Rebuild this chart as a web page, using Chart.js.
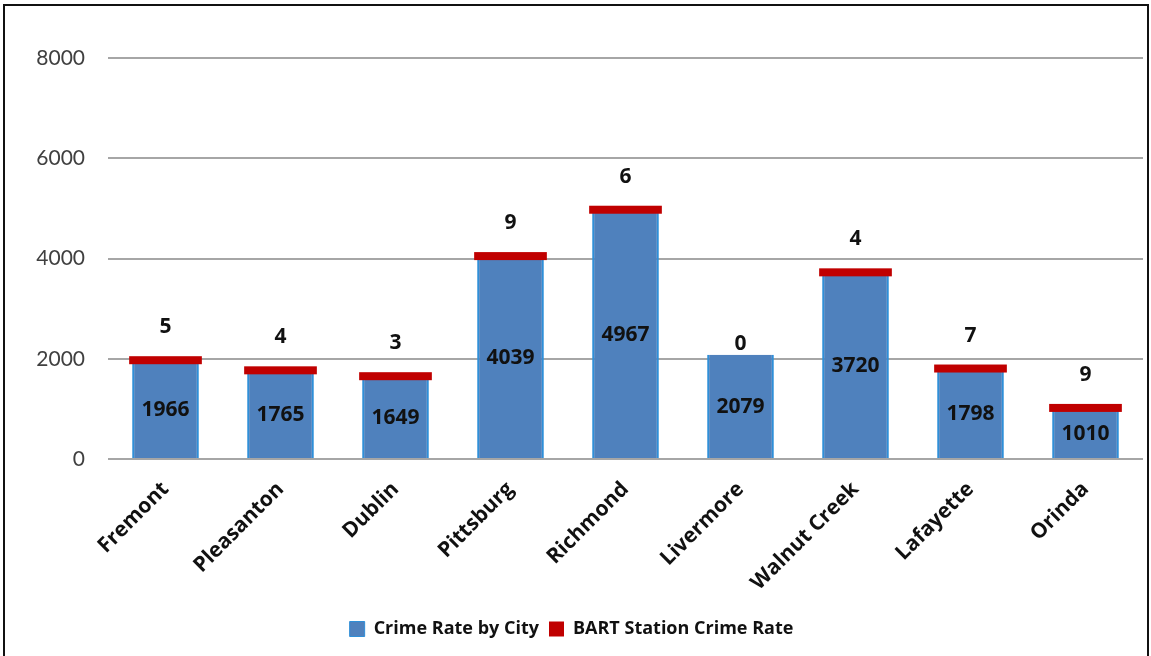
<!DOCTYPE html>
<html>
<head>
<meta charset="utf-8">
<script src="https://cdn.jsdelivr.net/npm/chart.js@4"></script>
<style>
  html, body { margin: 0; padding: 0; background: #fff; }
  #wrap { position: absolute; left: 0; top: 0; width: 1151px; height: 656px; }
  #frame { position: absolute; left: 3px; top: 4px; width: 1146px; height: 660px;
           border: 2px solid #111; box-sizing: border-box; pointer-events: none; }
</style>
</head>
<body>
<div id="wrap"><canvas id="crimeChart" width="1151" height="656"></canvas></div>
<div id="frame"></div>
<script>
// Crime rate by city vs BART station crime rate
const cities = ['Fremont', 'Pleasanton', 'Dublin', 'Pittsburg', 'Richmond', 'Livermore', 'Walnut Creek', 'Lafayette', 'Orinda'];
const cityRates = [1966, 1765, 1649, 4039, 4967, 2079, 3720, 1798, 1010];
const bartRates = [5, 4, 3, 9, 6, 0, 4, 7, 9];
const yTicks = [0, 2000, 4000, 6000, 8000];

const FONT = '"Open Sans", "Liberation Sans", sans-serif';
const TICK_FONT = 'Lato, "Liberation Sans", sans-serif';
const BLUE = '#4f81bd';
const RED = '#c00000';

// Red caps on top of each stack + value labels
const capsAndLabels = {
    id: 'capsAndLabels',
    afterDatasetsDraw(chart) {
        const ctx = chart.ctx;
        const blueMeta = chart.getDatasetMeta(0);
        const redMeta = chart.getDatasetMeta(1);
        ctx.save();
        ctx.textAlign = 'center';
        ctx.textBaseline = 'middle';
        ctx.font = `bold 21px ${FONT}`;
        ctx.fillStyle = '#111';

        blueMeta.data.forEach((bar, i) => {
            const mid = bar.y + (bar.base - bar.y) / 2;
            ctx.fillText(String(cityRates[i]), bar.x, mid + 1);
        });

        redMeta.data.forEach((bar, i) => {
            const top = bar.y;
            if (bartRates[i] > 0) {
                ctx.fillStyle = RED;
                ctx.fillRect(bar.x - bar.width / 2 - 3, top - 4, bar.width + 6, 8);
                ctx.fillStyle = '#111';
                ctx.fillText(String(bartRates[i]), bar.x, top - 33);
            } else {
                ctx.fillStyle = '#111';
                ctx.fillText(String(bartRates[i]), bar.x, top - 11);
            }
        });
        ctx.restore();
    }
};

new Chart(document.getElementById('crimeChart').getContext('2d'), {
    type: 'bar',
    data: {
        labels: cities,
        datasets: [
            {
                label: 'Crime Rate by City',
                data: cityRates,
                backgroundColor: BLUE,
                borderColor: '#2f8fd8',
                borderWidth: { left: 2, right: 2, top: 0, bottom: 0 },
                borderSkipped: false,
                barPercentage: 0.58,
                categoryPercentage: 1,
            },
            {
                label: 'BART Station Crime Rate',
                data: bartRates,
                backgroundColor: RED,
                borderWidth: 0,
                barPercentage: 0.58,
                categoryPercentage: 1,
            },
        ],
    },
    options: {
        responsive: false,
        animation: false,
        layout: { padding: { top: 58, right: 8, bottom: 8, left: 0 } },
        plugins: {
            legend: {
                position: 'bottom',
                labels: {
                    boxWidth: 15,
                    boxHeight: 15,
                    padding: 10,
                    color: '#111',
                    font: { family: FONT, size: 18, weight: 'bold' },
                },
            },
            tooltip: { enabled: false },
        },
        scales: {
            x: {
                stacked: true,
                grid: { display: false },
                border: { display: false },
                ticks: {
                    minRotation: 45,
                    maxRotation: 45,
                    padding: 10,
                    color: '#111',
                    font: { family: FONT, size: 21, weight: 'bold' },
                },
                afterFit: s => { s.height = 151; },
            },
            y: {
                stacked: true,
                min: 0,
                max: 8000,
                afterBuildTicks: s => { s.ticks = yTicks.map(v => ({ value: v })); },
                grid: { color: '#a6a6a6', lineWidth: 2, drawTicks: false },
                border: { display: false },
                ticks: {
                    padding: 23,
                    color: '#404040',
                    font: { family: TICK_FONT, size: 21 },
                    callback: v => String(v),
                },
                afterFit: s => { s.width = 108; },
            },
        },
    },
    plugins: [capsAndLabels],
});
</script>
</body>
</html>
